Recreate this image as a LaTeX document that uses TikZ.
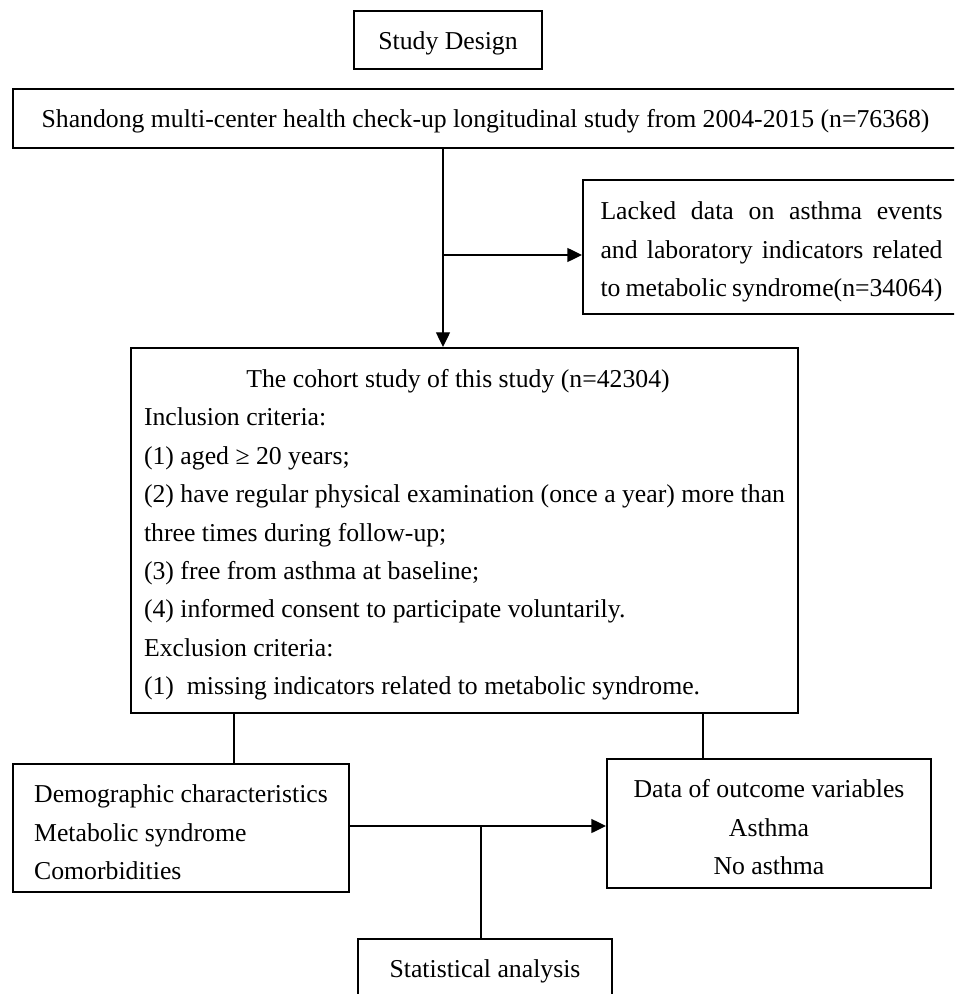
\documentclass[tikz,border=0pt]{standalone}
\usepackage{fontspec}
\setmainfont{Liberation Serif}
\usetikzlibrary{arrows.meta}
\newcommand\flowfont{\fontsize{19.3pt}{28.8pt}\selectfont}
\newcommand\up[1]{\rule{0pt}{#1}}
\begin{document}
\begin{tikzpicture}[x=0.75pt,y=-0.75pt,
  box/.style={draw, line width=1.5pt, inner sep=0pt, font=\flowfont},
  conn/.style={line width=1pt},
  arr/.style={conn,-{Triangle[length=11pt,width=10.5pt]}}]
\useasboundingbox (0,0) rectangle (954,994);
\fill[white] (0,0) rectangle (954,994);
\clip (0,0) rectangle (954,994);
% boxes
\node[box, minimum width=141pt, minimum height=43.5pt] (design) at (448,40) {\up{17.8pt}Study Design};
\node[box, minimum width=708.75pt, minimum height=44.25pt] (source) at (485.5,118.5)
  {\up{17.8pt}Shandong multi-center health check-up longitudinal study from 2004-2015 (n=76368)};
\node[box, minimum width=282.75pt, minimum height=100.5pt, align=left] (lacked) at (771.5,247)
  {\up{21.2pt}\makebox[256.5pt][s]{Lacked data on asthma events}\\
   \makebox[256.5pt][s]{and laboratory indicators related}\\
   \makebox[256.5pt][s]{to metabolic syndrome(n=34064)}};
\node[box, minimum width=500.25pt, minimum height=273.75pt, align=left] (cohort) at (464.5,530.5)
  {\up{20pt}\makebox[471pt][c]{The cohort study of this study (n=42304)}\\
   Inclusion criteria:\\
   (1) aged ≥ 20 years;\\
   (2) have regular physical examination (once a year) more than\\
   three times during follow-up;\\
   (3) free from asthma at baseline;\\
   (4) informed consent to participate voluntarily.\\
   Exclusion criteria:\\
   (1)\ \ missing indicators related to metabolic syndrome.};
\node[box, minimum width=252pt, minimum height=96pt, align=left] (demo) at (181,828)
  {\up{20pt}Demographic characteristics\\ Metabolic syndrome\\ Comorbidities};
\node[box, minimum width=243pt, minimum height=96.75pt, align=center] (outcome) at (769,823.5)
  {\up{19pt}Data of outcome variables\\ Asthma\\ No asthma};
\node[box, minimum width=190.5pt, minimum height=45.75pt] (stat) at (485,969.5) {\up{16.7pt}Statistical analysis};
% helper coordinates
\coordinate (trunk) at (443,255);
\coordinate (leftdrop) at (234,0);
\coordinate (rightdrop) at (703,0);
\coordinate (mid) at (0,826);
\coordinate (statdrop) at (481,826);
% connectors
\draw[arr] (source.south -| trunk) -- (cohort.north -| trunk);
\draw[arr] (trunk) -- (trunk -| lacked.west);
\draw[conn] (cohort.south -| leftdrop) -- (demo.north -| leftdrop);
\draw[conn] (cohort.south -| rightdrop) -- (outcome.north -| rightdrop);
\draw[arr] (demo.east |- mid) -- (outcome.west |- mid);
\draw[conn] (statdrop) -- (stat.north -| statdrop);
\end{tikzpicture}
\end{document}
